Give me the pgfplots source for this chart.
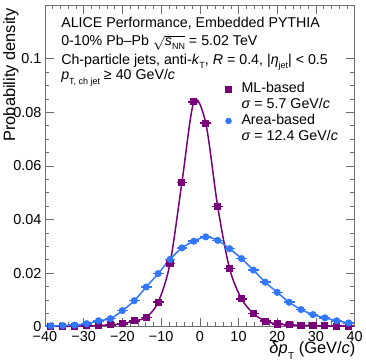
\documentclass[border=0pt]{standalone}
\usepackage{fontspec}
\setmainfont{Liberation Sans}
\usepackage{amsmath}
\usepackage{pgfplots}
\pgfplotsset{compat=1.18}

\definecolor{mlpurple}{RGB}{122,0,122}
\definecolor{areablue}{RGB}{51,119,255}
\definecolor{framegray}{RGB}{110,110,110}

\newcommand{\txt}{\fontsize{14.3}{16}\selectfont}
\newcommand{\lowsub}[1]{\raisebox{-0.55ex}{\fontsize{9}{9}\selectfont #1}}

\begin{document}
\begin{tikzpicture}
\begin{axis}[
    scale only axis,
    width=310bp, height=322bp,
    xmin=-40, xmax=40, ymin=0, ymax=0.12,
    clip=false,
    axis line style={framegray},
    every tick/.style={framegray},
    tick align=inside,
    xtick pos=both, ytick pos=both,
    major tick length=9bp, minor tick length=4.5bp,
    xtick={-40,-30,...,40},
    xticklabels={−40,−30,−20,−10,0,10,20,30,40},
    minor x tick num=4,
    ytick={0,0.02,0.04,0.06,0.08,0.1},
    yticklabels={0,0.02,0.04,0.06,0.08,0.1},
    minor y tick num=3,
    ticklabel style={font=\fontsize{14.5}{16}\selectfont},
    xticklabel style={yshift=-1bp},
    /pgf/number format/assume math mode=true,
    xlabel={\textit{δp}\hspace{0.5pt}\raisebox{-0.7ex}{\fontsize{10}{10}\selectfont T} (GeV/\textit{c})},
    xlabel style={at={(axis description cs:1.003,-0.084)}, anchor=base east, inner sep=0pt,
                  font=\fontsize{16.5}{18}\selectfont},
    ylabel={Probability density},
    ylabel style={at={(axis description cs:-0.085,0.99)}, anchor=south east, inner sep=0pt,
                  font=\fontsize{16.5}{18}\selectfont},
    legend style={draw=none, fill=none, at={(axis description cs:0.555,0.770)}, anchor=north west,
                  font=\txt, row sep=0pt,
                  nodes={text height=10.5pt, text depth=3.5pt, inner sep=1pt},
                  /tikz/every odd column/.append style={column sep=9bp}},
    legend cell align=left,
]

\addlegendimage{only marks, mark=square*, mark size=3bp, color=mlpurple}
\addlegendentry{ML-based}
\addlegendimage{empty legend}
\addlegendentry{\textit{σ} = 5.7 GeV/\textit{c}}
\addlegendimage{only marks, mark=*, mark size=3bp, color=areablue}
\addlegendentry{Area-based}
\addlegendimage{empty legend}
\addlegendentry{\textit{σ} = 12.4 GeV/\textit{c}}

% ML-based
\addplot[color=mlpurple, line width=1.5bp, smooth, mark=square*, mark size=2.8bp,
    error bars/.cd, x dir=both, x explicit, y dir=both, y explicit,
    error bar style={line width=1.6bp}, error mark=none] coordinates {
(-38.46,0.0001) +- (1.4,0.0003)
(-35.38,0.0001) +- (1.4,0.0003)
(-32.31,0.0002) +- (1.4,0.0003)
(-29.23,0.0003) +- (1.4,0.0003)
(-26.15,0.0004) +- (1.4,0.0003)
(-23.08,0.0007) +- (1.4,0.0003)
(-20.00,0.0011) +- (1.4,0.0003)
(-16.92,0.0022) +- (1.4,0.0004)
(-13.85,0.0035) +- (1.4,0.0005)
(-10.77,0.0091) +- (1.4,0.0007)
(-7.69,0.0236) +- (1.4,0.0009)
(-4.62,0.0538) +- (1.4,0.0011)
(-1.54,0.0839) +- (1.4,0.0012)
(1.54,0.0759) +- (1.4,0.0012)
(4.62,0.0448) +- (1.4,0.0011)
(7.69,0.0217) +- (1.4,0.0009)
(10.77,0.0104) +- (1.4,0.0007)
(13.85,0.0049) +- (1.4,0.0005)
(16.92,0.0021) +- (1.4,0.0004)
(20.00,0.0010) +- (1.4,0.0003)
(23.08,0.0007) +- (1.4,0.0003)
(26.15,0.0005) +- (1.4,0.0003)
(29.23,0.0004) +- (1.4,0.0003)
(32.31,0.0003) +- (1.4,0.0003)
(35.38,0.0002) +- (1.4,0.0003)
(38.46,0.0002) +- (1.4,0.0003)
};

% Area-based
\addplot[color=areablue, line width=1.5bp, smooth, mark=*, mark size=2.8bp,
    error bars/.cd, x dir=both, x explicit, y dir=both, y explicit,
    error bar style={line width=1.6bp}, error mark=none] coordinates {
(-38.46,0.0003) +- (1.4,0.0003)
(-35.38,0.0004) +- (1.4,0.0003)
(-32.31,0.0006) +- (1.4,0.0003)
(-29.23,0.0011) +- (1.4,0.0003)
(-26.15,0.0022) +- (1.4,0.0004)
(-23.08,0.0030) +- (1.4,0.0004)
(-20.00,0.0060) +- (1.4,0.0004)
(-16.92,0.0097) +- (1.4,0.0005)
(-13.85,0.0148) +- (1.4,0.0005)
(-10.77,0.0198) +- (1.4,0.0005)
(-7.69,0.0251) +- (1.4,0.0006)
(-4.62,0.0294) +- (1.4,0.0006)
(-1.54,0.0319) +- (1.4,0.0006)
(1.54,0.0335) +- (1.4,0.0006)
(4.62,0.0322) +- (1.4,0.0006)
(7.69,0.0291) +- (1.4,0.0006)
(10.77,0.0254) +- (1.4,0.0006)
(13.85,0.0211) +- (1.4,0.0005)
(16.92,0.0166) +- (1.4,0.0005)
(20.00,0.0128) +- (1.4,0.0005)
(23.08,0.0091) +- (1.4,0.0004)
(26.15,0.0064) +- (1.4,0.0004)
(29.23,0.0045) +- (1.4,0.0004)
(32.31,0.0033) +- (1.4,0.0003)
(35.38,0.0022) +- (1.4,0.0003)
(38.46,0.0014) +- (1.4,0.0003)
};

\node[anchor=base west, inner sep=0pt, font=\txt] at (axis description cs:0.052,0.931)
    {ALICE Performance, Embedded PYTHIA};
\node[anchor=base west, inner sep=0pt, font=\txt] at (axis description cs:0.052,0.874)
    {0-10\% Pb–Pb $\sqrt{\text{\textit{s}\lowsub{NN}}}$ = 5.02 TeV};
\node[anchor=base west, inner sep=0pt, font=\txt] at (axis description cs:0.052,0.816)
    {Ch-particle jets, anti-\textit{k}\lowsub{T}, \textit{R} = 0.4, |\textit{η}\lowsub{jet}| < 0.5};
\node[anchor=base west, inner sep=0pt, font=\txt] at (axis description cs:0.052,0.767)
    {\textit{p}\lowsub{T, ch jet} ≥ 40 GeV/\textit{c}};
\end{axis}
\path (current axis.south west) ++(-45bp,-37bp) (current axis.north east) ++(11bp,5bp);
\end{tikzpicture}
\end{document}
